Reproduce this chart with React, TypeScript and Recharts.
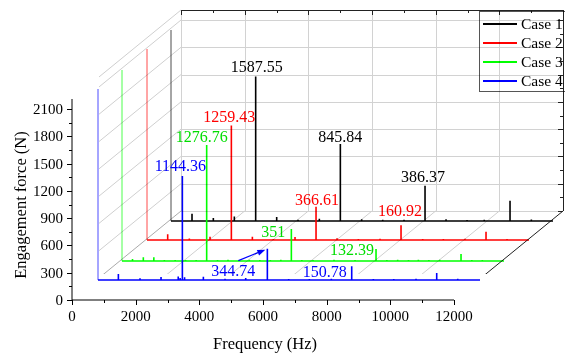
import React from "react";
import { LineChart, Line, XAxis, YAxis, ReferenceLine, ReferenceDot, Legend } from "recharts";

const W = 565;
const H = 353;
const M = { top: 99, right: 111, bottom: 53, left: 72 };
const F_MAX = 12000;
const Y_MAX = 2210;
const SERIF = "'Liberation Serif', 'Times New Roman', serif";

// depth offsets (px) of each plane behind the front one
const BACK = { dx: 109, dy: -89 };
const DEPTH = [
  { dx: 99, dy: -79 },
  { dx: 75, dy: -60 },
  { dx: 50, dy: -39 },
  { dx: 26, dy: -20 },
];

const freqAllTicks = [0, 1000, 2000, 3000, 4000, 5000, 6000, 7000, 8000, 9000, 10000, 11000, 12000];
const forceAllTicks = [0, 150, 300, 450, 600, 750, 900, 1050, 1200, 1350, 1500, 1650, 1800, 1950, 2100];

const caseNames = ["Case 1", "Case 2", "Case 3", "Case 4"];
const caseColors = ["#000000", "#ff0000", "#00ff00", "#0000ff"];
const textColors = ["#000000", "#ff0000", "#00dd00", "#0000ff"];

// spectra: frequency (Hz) and amplitude (N) of each line
const case1Freq = [660, 1330, 1990, 2660, 3320, 3990, 4660, 5320, 5990, 6650, 7320, 7980, 8640, 9300, 9840, 10650, 11320];
const case1Amp = [80, 32, 50, 1587.55, 44, 15, 26, 845.84, 20, 14, 14, 386.37, 18, 12, 14, 222, 16];

const case2Freq = [650, 1330, 1980, 2650, 3310, 3970, 4650, 5310, 5970, 6640, 7320, 7980, 8660, 9310, 9990, 10650, 11310];
const case2Amp = [62, 16, 37, 1259.43, 37, 10, 34, 366.61, 20, 12, 14, 160.92, 12, 12, 14, 90, 12];

const case3Freq = [330, 670, 1000, 1330, 1670, 2000, 2330, 2660, 3000, 3330, 3680, 4000, 4330, 4660, 4990, 5320, 5650, 6000, 6660, 7320, 7980, 8320, 8660, 9000, 9310, 9640, 9980, 10650, 10990, 11320];
const case3Amp = [22, 40, 40, 12, 12, 10, 12, 1276.76, 12, 14, 12, 14, 10, 12, 14, 351, 10, 12, 14, 10, 132.39, 10, 14, 12, 14, 12, 14, 78, 12, 12];

const case4Freq = [640, 1320, 1980, 2520, 2580, 2650, 2720, 3310, 3990, 4640, 5320, 5990, 6640, 7330, 7970, 8650, 9290, 9990, 10640, 11300];
const case4Amp = [66, 18, 33, 38, 22, 1144.36, 30, 36, 14, 22, 344.74, 10, 10, 14, 150.78, 12, 12, 14, 77, 14];

// annotated peaks
const case1Notes = [
  { f: 2660, a: 1587.55, text: "1587.55" },
  { f: 5320, a: 845.84, text: "845.84" },
  { f: 7980, a: 386.37, text: "386.37" },
];
const case2Notes = [
  { f: 2650, a: 1259.43, text: "1259.43" },
  { f: 5310, a: 366.61, text: "366.61" },
  { f: 7980, a: 160.92, text: "160.92" },
];
const case3Notes = [
  { f: 2660, a: 1276.76, text: "1276.76" },
  { f: 5320, a: 351, text: "351" },
  { f: 7980, a: 132.39, text: "132.39" },
];
const case4Notes = [
  { f: 2650, a: 1144.36, text: "1144.36" },
  { f: 5320, a: 344.74, text: "344.74" },
  { f: 7970, a: 150.78, text: "150.78" },
];

// label placement relative to the peak top (px)
const noteOffsets: Record<string, [number, number]> = {
  "1587.55": [1, -10],
  "845.84": [0, -8],
  "386.37": [-2, -9],
  "1259.43": [-2, -9],
  "366.61": [1, -7],
  "160.92": [-1, -15],
  "1276.76": [-5, -8],
  "351": [-18, 2],
  "132.39": [-24, 1],
  "1144.36": [-2, -10],
  "344.74": [-34, 22],
  "150.78": [-27, 5],
};
const arrowNote = "344.74";

function stems(freqs: number[], amps: number[]) {
  const pts = [{ f: 0, a: 0 }];
  freqs.forEach((f, i) => {
    pts.push({ f, a: 0 }, { f, a: amps[i] }, { f, a: 0 });
  });
  pts.push({ f: F_MAX, a: 0 });
  return pts;
}

const series = [
  { data: stems(case1Freq, case1Amp), notes: case1Notes },
  { data: stems(case2Freq, case2Amp), notes: case2Notes },
  { data: stems(case3Freq, case3Amp), notes: case3Notes },
  { data: stems(case4Freq, case4Amp), notes: case4Notes },
];

// frame layers only need the value range to build their axes
const frameData = [
  { f: 0, a: 0 },
  { f: F_MAX, a: 2100 },
];

function NoteLabel(props: any) {
  const { viewBox, text, color } = props;
  const cx = viewBox.x + (viewBox.width || 0) / 2;
  const cy = viewBox.y + (viewBox.height || 0) / 2;
  const [ox, oy] = noteOffsets[text];
  let arrow = null;
  if (text === arrowNote) {
    const x1 = cx - 29, y1 = cy + 12, x2 = cx - 2, y2 = cy + 1;
    const len = Math.hypot(x2 - x1, y2 - y1);
    const ux = (x2 - x1) / len, uy = (y2 - y1) / len;
    const bx = x2 - ux * 8, by = y2 - uy * 8;
    arrow = (
      <g>
        <line x1={x1} y1={y1} x2={bx} y2={by} stroke={color} strokeWidth={1.2} />
        <polygon
          points={`${x2},${y2} ${bx - uy * 3},${by + ux * 3} ${bx + uy * 3},${by - ux * 3}`}
          fill={color}
        />
      </g>
    );
  }
  return (
    <g>
      <text x={cx + ox} y={cy + oy + 5.5} textAnchor="middle" fontSize={16} fontFamily={SERIF} fill={color}>
        {text}
      </text>
      {arrow}
    </g>
  );
}

const px = (v: number) => Math.round(v) + 0.5;
const GRID = "#d2d2d2";
const DIAG = "#cfcfcf";
const EDGE = "#222";

// the box layer sits at the rearmost series depth; these shift its
// reference lines to the front plane and to the rear plane
const HOST = DEPTH[0];
const FR = { dx: -HOST.dx, dy: -HOST.dy };
const BK = { dx: BACK.dx - HOST.dx, dy: BACK.dy - HOST.dy };

// everything hanging off one frequency value: floor line, rear grid line, rear top tick
const freqFrame = (f: number) => (p: any) => {
  const major = f % 2000 === 0;
  const x = p.x1;
  const yb = Math.max(p.y1, p.y2);
  const yt = Math.min(p.y1, p.y2);
  const bx = px(x + BK.dx);
  const edge = f === F_MAX;
  return (
    <g>
      {major && (
        <line
          x1={x + FR.dx}
          y1={yb + FR.dy}
          x2={x + BK.dx}
          y2={yb + BK.dy}
          stroke={edge ? EDGE : f === 0 ? "#aaa" : DIAG}
          strokeWidth={1}
        />
      )}
      {major && <line x1={bx} y1={yt + BK.dy} x2={bx} y2={yb + BK.dy} stroke={edge ? EDGE : GRID} strokeWidth={1} />}
      <line x1={bx} y1={yt + BK.dy} x2={bx} y2={yt + BK.dy + (major ? 5 : 3)} stroke={EDGE} strokeWidth={1} />
    </g>
  );
};

// everything hanging off one force value: side-wall line, rear grid line, rear right tick
const forceFrame = (v: number) => (p: any) => {
  const top = v === Y_MAX;
  const major = top || v % 300 === 0;
  const xa = Math.min(p.x1, p.x2);
  const xb = Math.max(p.x1, p.x2);
  const y = p.y1;
  const by = px(y + BK.dy);
  return (
    <g>
      {major && v > 0 && (
        <line x1={xa + FR.dx} y1={y + FR.dy} x2={xa + BK.dx} y2={y + BK.dy} stroke={DIAG} strokeWidth={1} />
      )}
      {major && <line x1={xa + BK.dx} y1={by} x2={xb + BK.dx} y2={by} stroke={top ? EDGE : GRID} strokeWidth={1} />}
      {!top && <line x1={xb + BK.dx} y1={by} x2={xb + BK.dx - (major ? 5 : 3)} y2={by} stroke={EDGE} strokeWidth={1} />}
    </g>
  );
};

// tick marks on the front axes: long on major values, short on minor ones
const freqTick = (p: any) => {
  const v = p.payload.value;
  const major = v % 2000 === 0;
  const x = px(p.x);
  return (
    <g>
      <line x1={x} y1={p.y} x2={x} y2={p.y + (major ? 5 : 3)} stroke="#000" />
      {major && (
        <text x={p.x} y={p.y + 20.5} textAnchor="middle" fontSize={15} fontFamily={SERIF} fill="#000">
          {v}
        </text>
      )}
    </g>
  );
};

const forceTick = (p: any) => {
  const v = p.payload.value;
  const major = v % 300 === 0;
  const y = px(p.y);
  return (
    <g>
      <line x1={p.x} y1={y} x2={p.x - (major ? 5 : 3)} y2={y} stroke="#000" />
      {major && (
        <text x={p.x - 9} y={p.y + 5} textAnchor="end" fontSize={15} fontFamily={SERIF} fill="#000">
          {v}
        </text>
      )}
    </g>
  );
};

const XTitle = (p: any) => (
  <text x={p.viewBox.x + p.viewBox.width / 2 + 2} y={p.viewBox.y + 49} textAnchor="middle" fontSize={16.5} fontFamily={SERIF} fill="#000">
    Frequency (Hz)
  </text>
);

const YTitle = (p: any) => {
  const x = p.viewBox.x + p.viewBox.width - 46;
  const y = p.viewBox.y + 106;
  return (
    <text x={x} y={y} transform={`rotate(-90, ${x}, ${y})`} textAnchor="middle" fontSize={16.5} fontFamily={SERIF} fill="#000">
      Engagement force (N)
    </text>
  );
};

const LegendBox = () => (
  <div
    style={{
      border: "1px solid #555",
      background: "#fff",
      padding: "2px 0 1px 3px",
      width: 92,
      boxSizing: "border-box",
      fontFamily: SERIF,
      fontSize: 15.5,
      color: "#000",
    }}
  >
    {caseNames.map((n, i) => (
      <div key={n} style={{ display: "flex", alignItems: "center", height: 19 }}>
        <span style={{ display: "inline-block", width: 34, height: 2, background: caseColors[i], marginRight: 4 }} />
        <span>{n}</span>
      </div>
    ))}
  </div>
);

function AxisLayer() {
  return (
    <div style={{ position: "absolute", left: 0, top: 0 }}>
      <LineChart width={W} height={H} margin={{ top: 99, right: 111, bottom: 52, left: 71 }} data={frameData}>
        <XAxis
          type="number"
          dataKey="f"
          domain={[0, F_MAX]}
          ticks={freqAllTicks}
          interval={0}
          tickSize={0}
          tickMargin={0}
          tickLine={false}
          height={1}
          stroke="#000"
          tick={freqTick}
          label={<XTitle />}
        />
        <YAxis
          type="number"
          domain={[0, Y_MAX]}
          ticks={forceAllTicks}
          interval={0}
          tickSize={0}
          tickMargin={0}
          tickLine={false}
          width={1}
          stroke="#000"
          tick={forceTick}
          label={<YTitle />}
        />
        <Line dataKey="a" stroke="none" dot={false} isAnimationActive={false} />
      </LineChart>
    </div>
  );
}

// box lines are painted last but multiplied, so they only darken white paper
function BoxLayer() {
  return (
    <div className="box-layer" style={{ position: "absolute", left: HOST.dx, top: HOST.dy }}>
      <LineChart width={W} height={H} margin={M} data={frameData}>
        <XAxis type="number" dataKey="f" domain={[0, F_MAX]} hide />
        <YAxis type="number" domain={[0, Y_MAX]} hide />
        <Line dataKey="a" stroke="none" dot={false} isAnimationActive={false} />
        {[...forceAllTicks, Y_MAX].map((v) => (
          <ReferenceLine key={"y" + v} y={v} stroke={GRID} ifOverflow="visible" shape={forceFrame(v)} />
        ))}
        {freqAllTicks.map((f) => (
          <ReferenceLine key={"x" + f} x={f} stroke={GRID} ifOverflow="visible" shape={freqFrame(f)} />
        ))}
        <Legend
          layout="vertical"
          align="center"
          verticalAlign="middle"
          content={() => <LegendBox />}
          wrapperStyle={{ left: 479 - HOST.dx, top: 11 - HOST.dy, width: 92 }}
        />
      </LineChart>
    </div>
  );
}

function SeriesLayer({ idx }: { idx: number }) {
  const s = series[idx];
  const color = caseColors[idx];
  const off = DEPTH[idx];
  return (
    <div style={{ position: "absolute", left: off.dx, top: off.dy }}>
      <LineChart width={W} height={H} margin={M} data={s.data}>
        <XAxis type="number" dataKey="f" domain={[0, F_MAX]} hide />
        <YAxis type="number" domain={[0, Y_MAX]} hide />
        <ReferenceLine segment={[{ x: 0, y: 0 }, { x: 0, y: 2100 }]} stroke={color} strokeOpacity={0.7} strokeWidth={1} />
        <Line type="linear" dataKey="a" stroke={color} strokeWidth={1.6} dot={false} isAnimationActive={false} />
        {s.notes.map((n) => (
          <ReferenceDot
            key={n.text}
            x={n.f}
            y={n.a}
            r={0}
            stroke="none"
            fill="none"
            label={<NoteLabel text={n.text} color={textColors[idx]} />}
          />
        ))}
      </LineChart>
    </div>
  );
}

export default function App() {
  return (
    <div style={{ position: "relative", width: W, height: H, background: "#fff", overflow: "hidden" }}>
      <style>{"body{margin:0} .box-layer svg{mix-blend-mode:multiply}"}</style>
      <AxisLayer />
      <SeriesLayer idx={0} />
      <SeriesLayer idx={1} />
      <SeriesLayer idx={2} />
      <SeriesLayer idx={3} />
      <BoxLayer />
    </div>
  );
}
